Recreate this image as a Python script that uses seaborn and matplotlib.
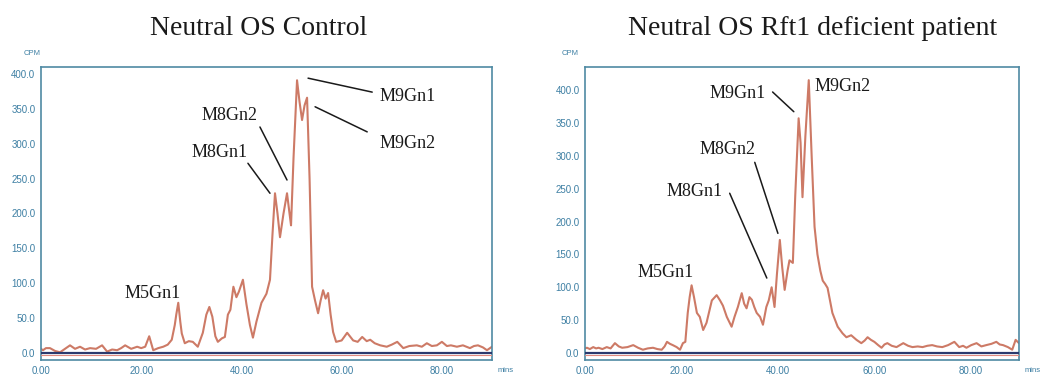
import numpy as np
import pandas as pd
import matplotlib
matplotlib.use("Agg")
import matplotlib.pyplot as plt
import seaborn as sns

# Control sample trace (retention time in mins, CPM)
control_time = [0.0, 0.4, 1.0, 1.8, 2.8, 3.8, 4.8, 5.8, 6.8, 7.8, 8.8, 9.8, 11.0, 12.2, 13.2,
                14.2, 15.2, 16.0, 16.8, 18.0, 19.2, 20.0, 20.8, 21.6, 22.4, 23.4, 24.4, 25.3,
                26.1, 26.7, 27.0, 27.4, 27.8, 28.1, 28.7, 29.5, 30.3, 31.3, 32.3, 33.0, 33.6,
                34.2, 34.8, 35.3, 36.1, 36.7, 37.3, 37.8, 38.4, 39.0, 39.5, 40.3, 41.0, 41.7,
                42.3, 43.0, 44.0, 45.0, 45.7, 46.2, 46.7, 47.2, 47.7, 48.4, 49.1, 49.6, 49.9,
                50.4, 51.1, 51.6, 52.1, 52.6, 53.1, 53.6, 54.1, 54.7, 55.3, 55.8, 56.3, 56.8,
                57.3, 57.8, 58.3, 58.9, 60.0, 61.1, 62.3, 63.2, 64.1, 65.0, 65.7, 66.6, 67.7,
                69.0, 70.0, 71.1, 72.3, 73.5, 75.0, 76.0, 77.0, 78.0, 79.0, 80.0, 81.0, 81.8,
                83.0, 84.2, 85.6, 86.4, 87.2, 88.2, 89.0, 90.0]
control_cpm = [6, 4, 7, 7, 3, 1, 6, 11, 6, 9, 5, 7, 6, 11, 2,
               5, 4, 7, 11, 6, 9, 7, 9, 24, 4, 7, 9, 12,
               19, 40, 55, 72, 45, 28, 14, 17, 16, 9, 29, 55, 66,
               52, 24, 16, 21, 23, 55, 62, 95, 80, 88, 105, 70, 40,
               22, 45, 72, 85, 105, 170, 229, 200, 166, 200, 229, 200, 183,
               280, 391, 360, 334, 355, 366, 250, 95, 75, 57, 75, 90, 78,
               86, 55, 30, 16, 18, 29, 18, 16, 23, 17, 19, 14, 11,
               9, 12, 16, 7, 10, 11, 9, 14, 10, 11, 16, 10, 11,
               9, 11, 7, 10, 11, 8, 4, 9]

# Rft1 deficient patient trace
patient_time = [0.0, 0.4, 1.0, 1.7, 2.3, 2.8, 3.6, 4.5, 5.3, 6.2, 7.0, 7.7, 8.8, 10.0, 11.0,
                12.0, 13.0, 14.1, 15.0, 15.9, 16.5, 17.0, 17.6, 18.2, 19.0, 19.7, 20.3, 20.8,
                21.3, 21.7, 22.1, 22.6, 23.2, 23.8, 24.5, 25.2, 26.3, 27.3, 28.0, 28.6, 29.4,
                30.4, 31.0, 31.7, 32.5, 33.0, 33.5, 34.1, 34.6, 35.1, 35.6, 36.3, 36.9, 37.6,
                38.1, 38.7, 39.3, 39.8, 40.4, 40.9, 41.4, 42.0, 42.4, 43.1, 43.6, 44.3, 44.7,
                45.1, 45.7, 46.4, 47.0, 47.6, 48.2, 48.8, 49.3, 49.8, 50.3, 50.8, 51.3, 52.4,
                53.4, 54.2, 55.2, 56.3, 57.3, 58.0, 58.6, 59.3, 60.0, 60.8, 61.5, 62.1, 62.7,
                63.6, 64.6, 65.3, 66.0, 67.0, 67.9, 69.0, 70.0, 71.0, 72.0, 73.0, 74.1, 75.3,
                76.6, 77.6, 78.4, 79.1, 80.1, 81.2, 82.2, 83.2, 84.3, 85.3, 86.0, 86.7, 87.7,
                88.6, 89.3, 90.0]
patient_cpm = [7, 8, 6, 9, 7, 8, 6, 9, 7, 15, 10, 8, 9, 12, 8,
               5, 7, 8, 6, 5, 10, 17, 14, 12, 9, 5, 15, 17,
               61, 85, 103, 85, 61, 55, 35, 46, 80, 88, 80, 72, 55,
               40, 55, 70, 91, 75, 68, 85, 81, 70, 61, 55, 43, 70,
               80, 100, 70, 120, 172, 130, 96, 125, 141, 137, 240, 357, 320,
               237, 330, 415, 300, 192, 150, 125, 110, 105, 99, 80, 61, 40,
               30, 24, 27, 20, 15, 19, 24, 20, 17, 12, 8, 13, 15,
               11, 9, 12, 15, 11, 9, 10, 9, 11, 12, 10, 9, 12,
               17, 9, 11, 8, 12, 15, 10, 12, 14, 17, 13, 12, 9,
               5, 20, 15]

titles = ["Neutral OS Control", "Neutral OS Rft1 deficient patient"]
x_ticks = [0, 20, 40, 60, 80]
y_ticks = [0, 50, 100, 150, 200, 250, 300, 350, 400]

# peak labels: (name, text_x, text_y, line start, line end)
control_labels = [
    ("M5Gn1", 22.2, 86, None, None),
    ("M8Gn1", 35.7, 288, (41.3, 272), (45.7, 229)),
    ("M8Gn2", 37.7, 341, (43.7, 324), (49.1, 248)),
    ("M9Gn1", 73.1, 368, (53.3, 394), (66.1, 374)),
    ("M9Gn2", 73.1, 301, (54.7, 353), (65.1, 317)),
]
patient_labels = [
    ("M5Gn1", 16.8, 122, None, None),
    ("M8Gn1", 22.8, 245, (30.0, 243), (37.7, 114)),
    ("M8Gn2", 29.6, 310, (35.2, 290), (40.0, 182)),
    ("M9Gn1", 31.7, 395, (38.9, 397), (43.3, 367)),
    ("M9Gn2", 53.4, 405, None, None),
]

sns.set_style("white")
plt.rcParams["font.family"] = ["Liberation Sans", "DejaVu Sans"]

TRACE = "#cd7a66"
FRAME = "#4f8aa3"
TICK_TXT = "#3d7fa3"

fig = plt.figure(figsize=(10.61, 3.76), dpi=100)
ax_left = fig.add_axes([0.0386, 0.0426, 0.4251, 0.7792])
ax_right = fig.add_axes([0.5514, 0.0426, 0.4090, 0.7792])

panels = [
    (ax_left, control_time, control_cpm, control_labels, (-10, 410), 0.244),
    (ax_right, patient_time, patient_cpm, patient_labels, (-10.6, 435), 0.766),
]

for i, (ax, t, cpm, labels, ylim, title_x) in enumerate(panels):
    df = pd.DataFrame({"mins": t, "CPM": cpm})
    sns.lineplot(data=df, x="mins", y="CPM", ax=ax, color=TRACE, lw=1.5, estimator=None)

    # baseline markers
    ax.axhline(0, color="#2b3a6e", lw=1.6, zorder=3)
    ax.axhline(-3, color="#e08a80", lw=0.8, zorder=3)

    ax.set_xlim(0, 90)
    ax.set_ylim(*ylim)
    ax.set_xticks(x_ticks)
    ax.set_xticklabels([f"{v:.2f}" for v in x_ticks])
    ax.set_xticks([10, 30, 50, 70], minor=True)
    ax.set_yticks(y_ticks)
    ax.set_yticklabels([f"{v:.1f}" for v in y_ticks])
    ax.tick_params(axis="both", which="both", direction="out", colors=FRAME,
                   labelcolor=TICK_TXT, labelsize=7, length=2.5, width=0.8, pad=1.5)
    ax.tick_params(axis="x", which="minor", length=1.5)
    ax.set_xlabel("")
    ax.set_ylabel("")
    for sp in ax.spines.values():
        sp.set_color(FRAME)
        sp.set_linewidth(1.2)

    ax.text(-0.02 if i == 0 else -0.035, 1.045, "CPM", transform=ax.transAxes,
            fontsize=5.5, color=TICK_TXT, ha="center", va="center")
    ax.text(1.012, -0.035, "mins", transform=ax.transAxes, fontsize=5.5,
            color=TICK_TXT, ha="left", va="center")

    for name, tx, ty, p0, p1 in labels:
        ax.text(tx, ty, name, fontsize=13, family="Liberation Serif",
                color="#1a1a1a", ha="center", va="center")
        if p0 is not None:
            ax.plot([p0[0], p1[0]], [p0[1], p1[1]], color="#1a1a1a", lw=1.1)

    fig.text(title_x, 0.925, titles[i], fontsize=20, family="Liberation Serif",
             color="#1a1a1a", ha="center", va="center")

fig.savefig("out.png", dpi=100)
